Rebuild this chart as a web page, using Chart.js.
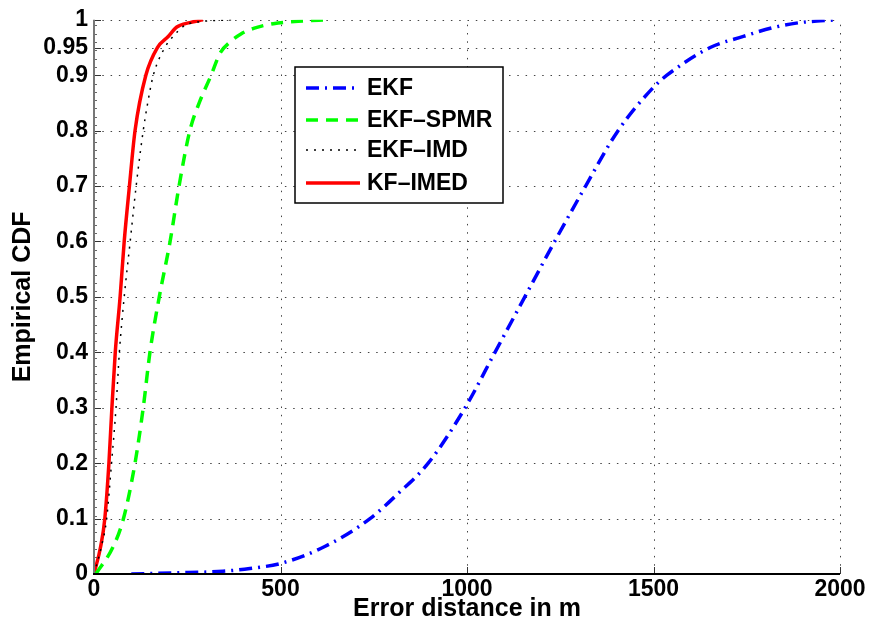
<!DOCTYPE html>
<html>
<head>
<meta charset="utf-8">
<script src="https://cdn.jsdelivr.net/npm/chart.js@4/dist/chart.umd.min.js"></script>
<style>
  html, body { margin: 0; padding: 0; background: #fff; }
  #wrap { width: 869px; height: 630px; }
</style>
</head>
<body>
<div id="wrap"><canvas id="cdf"></canvas></div>
<script>
// values (error distance in m -> empirical CDF)
const ekfX = [100, 212, 346, 418, 500, 620, 740, 815, 896, 995, 1075, 1155, 1235, 1318, 1405, 1504, 1536, 1652, 1741, 1821, 1893, 1991];
const ekfY = [0, 0.002, 0.005, 0.01, 0.019, 0.05, 0.1, 0.145, 0.2, 0.3, 0.4, 0.5, 0.6, 0.7, 0.8, 0.881, 0.9, 0.95, 0.97, 0.986, 0.995, 1];

const spmrX = [5, 52, 79, 110, 132, 150, 175, 204, 228, 257, 282, 314, 338, 365, 395, 430, 481, 560, 624];
const spmrY = [0, 0.05, 0.1, 0.2, 0.3, 0.4, 0.5, 0.6, 0.7, 0.8, 0.85, 0.9, 0.94, 0.96, 0.975, 0.985, 0.993, 0.998, 1];

const imdX = [0, 20, 34, 47, 59, 68, 81, 97, 113, 132, 144, 159, 190, 212, 244, 290, 370];
const imdY = [0, 0.05, 0.1, 0.2, 0.3, 0.4, 0.5, 0.6, 0.7, 0.8, 0.85, 0.9, 0.95, 0.97, 0.99, 0.997, 1];

const imedX = [0, 18, 29, 40, 48, 57, 70, 81, 95, 110, 139, 170, 199, 222, 257, 292];
const imedY = [0, 0.05, 0.1, 0.2, 0.3, 0.4, 0.5, 0.6, 0.7, 0.8, 0.9, 0.95, 0.97, 0.987, 0.995, 1];

const seriesNames = ['EKF', 'EKF\u2013SPMR', 'EKF\u2013IMD', 'KF\u2013IMED'];
const xTicks = [0, 500, 1000, 1500, 2000];
const yTicks = [0, 0.1, 0.2, 0.3, 0.4, 0.5, 0.6, 0.7, 0.8, 0.9, 0.95, 1];

const FONT = "'Liberation Sans', Arial, Helvetica, sans-serif";

function pts(xs, ys) {
  return xs.map((x, i) => ({ x: x, y: ys[i] }));
}

const styles = [
  { color: '#0000ff', width: 3.5, dash: [13, 6, 2, 6] },
  { color: '#00ff00', width: 3.5, dash: [12, 8] },
  { color: '#000000', width: 1.5, dash: [2, 6] },
  { color: '#ff0000', width: 3.5, dash: [] }
];
const allData = [pts(ekfX, ekfY), pts(spmrX, spmrY), pts(imdX, imdY), pts(imedX, imedY)];

// grid, axes and inward ticks drawn MATLAB style
const axesPlugin = {
  id: 'matlabAxes',
  beforeDatasetsDraw(chart) {
    const ctx = chart.ctx, a = chart.chartArea;
    const xs = chart.scales.x, ys = chart.scales.y;
    ctx.save();
    ctx.strokeStyle = '#444';
    ctx.lineWidth = 1;
    ctx.setLineDash([1.5, 6.8]);
    xTicks.slice(1).forEach(v => {
      const px = Math.round(xs.getPixelForValue(v)) + 0.5;
      ctx.beginPath(); ctx.moveTo(px, a.bottom); ctx.lineTo(px, a.top); ctx.stroke();
    });
    yTicks.slice(1).forEach(v => {
      const py = Math.round(ys.getPixelForValue(v)) + 0.5;
      ctx.beginPath(); ctx.moveTo(a.left, py); ctx.lineTo(a.right, py); ctx.stroke();
    });
    ctx.setLineDash([]);
    // minor ticks on the left axis
    ctx.strokeStyle = '#666';
    for (let v = 0; v <= 1.0001; v += 0.015) {
      const py = Math.round(ys.getPixelForValue(v)) + 0.5;
      ctx.beginPath(); ctx.moveTo(a.left, py); ctx.lineTo(a.left + 3, py); ctx.stroke();
    }
    ctx.strokeStyle = '#333';
    yTicks.forEach(v => {
      const py = Math.round(ys.getPixelForValue(v)) + 0.5;
      ctx.beginPath(); ctx.moveTo(a.left, py); ctx.lineTo(a.left + 7, py); ctx.stroke();
    });
    xTicks.forEach(v => {
      const px = Math.round(xs.getPixelForValue(v)) + 0.5;
      ctx.beginPath(); ctx.moveTo(px, a.bottom); ctx.lineTo(px, a.bottom - 7); ctx.stroke();
    });
    ctx.restore();
  },
  afterDatasetsDraw(chart) {
    const ctx = chart.ctx, a = chart.chartArea;
    ctx.save();
    ctx.lineWidth = 2;
    ctx.strokeStyle = '#777';
    ctx.beginPath(); ctx.moveTo(a.left, a.top); ctx.lineTo(a.left, a.bottom); ctx.stroke();
    ctx.strokeStyle = '#000';
    ctx.beginPath(); ctx.moveTo(a.left - 1, a.bottom); ctx.lineTo(a.right, a.bottom); ctx.stroke();

    // legend box
    const bx = 295, by = 67, bw = 208, bh = 136;
    ctx.fillStyle = '#fff';
    ctx.fillRect(bx, by, bw, bh);
    ctx.strokeStyle = '#000';
    ctx.lineWidth = 1.5;
    ctx.strokeRect(bx, by, bw, bh);
    const rows = [88, 120, 150, 183];
    ctx.font = 'bold 23px ' + FONT;
    ctx.textBaseline = 'middle';
    seriesNames.forEach((name, i) => {
      const s = styles[i];
      ctx.strokeStyle = s.color;
      ctx.lineWidth = s.width;
      ctx.setLineDash(s.dash);
      ctx.beginPath(); ctx.moveTo(306, rows[i]); ctx.lineTo(360, rows[i]); ctx.stroke();
      ctx.setLineDash([]);
      ctx.fillStyle = '#000';
      ctx.fillText(name, 367, rows[i] + 1);
    });
    ctx.restore();
  }
};

new Chart(document.getElementById('cdf'), {
  type: 'line',
  data: {
    datasets: allData.map((d, i) => ({
      label: seriesNames[i],
      data: d,
      borderColor: styles[i].color,
      borderWidth: styles[i].width,
      borderDash: styles[i].dash,
      pointRadius: 0,
      fill: false,
      cubicInterpolationMode: 'monotone'
    }))
  },
  options: {
    responsive: true,
    maintainAspectRatio: false,
    animation: false,
    layout: { padding: { top: 18, right: 29, left: 0, bottom: 0 } },
    plugins: { legend: { display: false }, tooltip: { enabled: false } },
    scales: {
      x: {
        type: 'linear',
        min: 0, max: 2000,
        afterBuildTicks: s => { s.ticks = xTicks.map(v => ({ value: v })); },
        afterFit: s => { s.height = 56; },
        grid: { display: false, drawTicks: false },
        border: { display: false },
        ticks: {
          padding: 2, color: '#000',
          font: { family: FONT, size: 23, weight: 'bold' },
          callback: v => String(v)
        },
        title: {
          display: true, text: 'Error distance in m', color: '#000',
          padding: { top: 0, bottom: 6 },
          font: { family: FONT, size: 25, weight: 'bold' }
        }
      },
      y: {
        type: 'linear',
        min: 0, max: 1,
        afterBuildTicks: s => { s.ticks = yTicks.map(v => ({ value: v })); },
        afterFit: s => { s.width = 94; },
        grid: { display: false, drawTicks: false },
        border: { display: false },
        ticks: {
          padding: 6, color: '#000',
          font: { family: FONT, size: 23, weight: 'bold' },
          callback: v => String(v)
        },
        title: {
          display: true, text: 'Empirical CDF', color: '#000',
          padding: { top: 8, bottom: 0 },
          font: { family: FONT, size: 25, weight: 'bold' }
        }
      }
    }
  },
  plugins: [axesPlugin]
});
</script>
</body>
</html>
